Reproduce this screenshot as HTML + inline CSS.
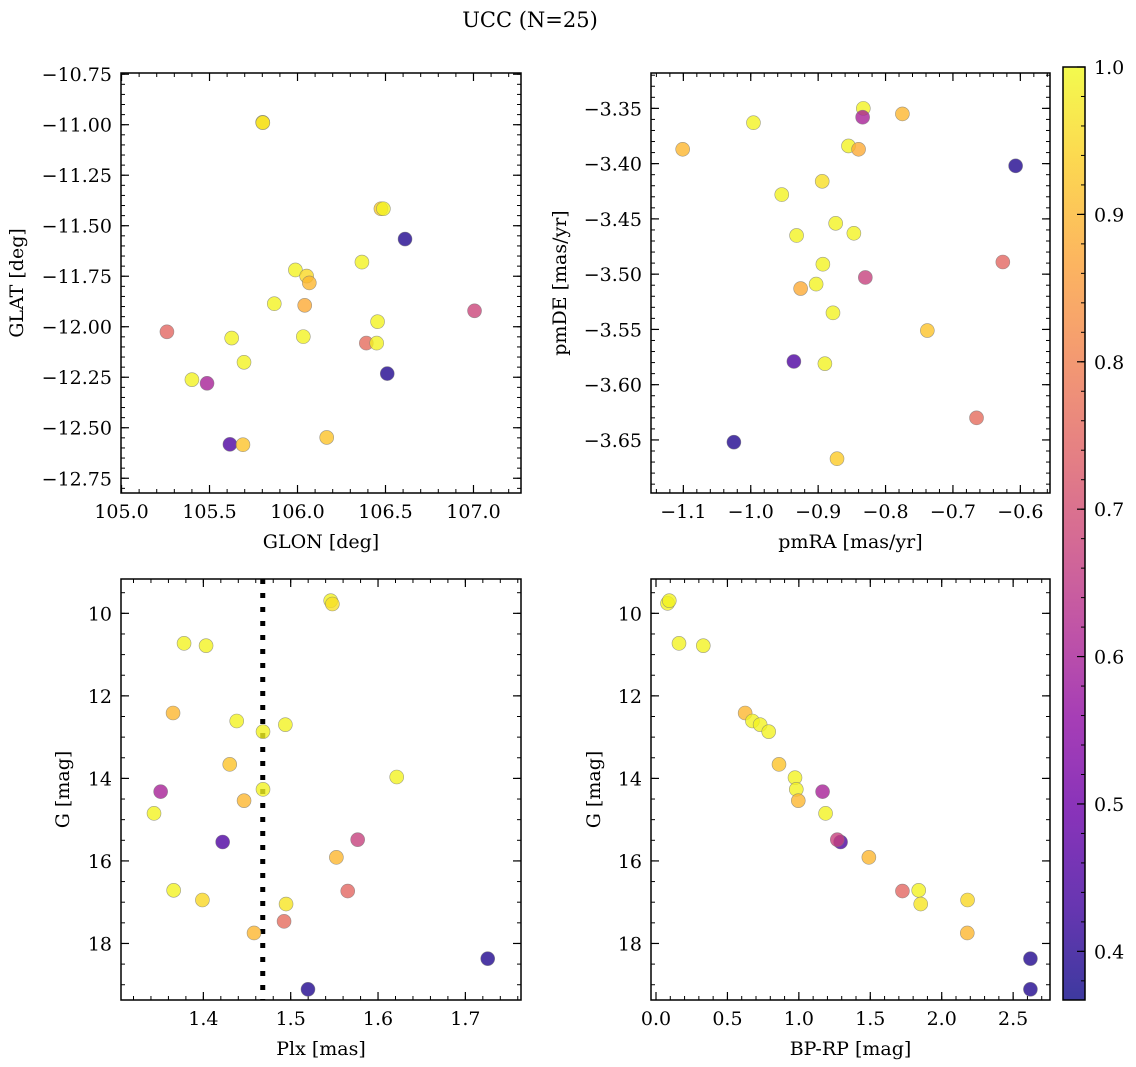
<!DOCTYPE html>
<html><head><meta charset="utf-8"><style>
html,body{margin:0;padding:0;background:#fff;}
svg{display:block;font-family:"DejaVu Serif","Liberation Serif",serif;}
</style></head><body>
<svg id="fig" width="1136" height="1067" viewBox="0 0 1136 1067" xmlns="http://www.w3.org/2000/svg">
<text x="530" y="27" font-size="21" text-anchor="middle">UCC (N=25)</text>
</svg>
<script>
// ---- data ----
const p1Glon = [105.802,106.474,106.488,106.611,106.366,105.988,106.052,106.067,105.868,106.041,107.006,105.258,106.455,105.626,106.033,106.391,106.450,105.696,106.510,105.400,105.486,106.166,105.616,105.690,105.803];
const p1Glat = [-10.988,-11.416,-11.416,-11.566,-11.680,-11.719,-11.749,-11.783,-11.886,-11.894,-11.921,-12.025,-11.975,-12.056,-12.049,-12.081,-12.081,-12.176,-12.232,-12.262,-12.280,-12.548,-12.582,-12.584,-10.990];
const p1Prob = [0.99,0.93,0.99,0.39,0.99,0.99,0.95,0.90,0.99,0.88,0.68,0.75,0.99,0.99,0.99,0.76,0.99,0.99,0.39,0.99,0.60,0.92,0.45,0.92,0.96];

const p2Pmra = [-0.833,-0.834,-0.775,-0.996,-1.101,-0.855,-0.840,-0.607,-0.894,-0.954,-0.874,-0.847,-0.932,-0.893,-0.626,-0.830,-0.903,-0.926,-0.878,-0.738,-0.936,-0.890,-0.665,-1.025,-0.872];
const p2Pmde = [-3.350,-3.358,-3.355,-3.363,-3.387,-3.384,-3.387,-3.402,-3.416,-3.428,-3.454,-3.463,-3.465,-3.491,-3.489,-3.503,-3.509,-3.513,-3.535,-3.551,-3.579,-3.581,-3.630,-3.652,-3.667];
const p2Prob = [0.99,0.60,0.90,0.99,0.90,0.99,0.88,0.39,0.96,0.99,0.99,0.99,0.99,0.99,0.75,0.67,0.99,0.88,0.99,0.92,0.45,0.99,0.76,0.39,0.93];

const p3Plx = [1.5458,1.5477,1.3779,1.4031,1.3653,1.4382,1.4939,1.4683,1.4302,1.6214,1.3511,1.4683,1.4466,1.3435,1.4221,1.5767,1.5523,1.3660,1.5653,1.3989,1.4947,1.4924,1.4580,1.7256,1.5198];
const p3G = [9.693,9.774,10.727,10.784,12.415,12.609,12.698,12.868,13.659,13.966,14.321,14.265,14.540,14.847,15.541,15.485,15.913,16.712,16.729,16.947,17.044,17.464,17.746,18.368,19.111];
const p3Prob = [0.99,0.96,0.99,0.99,0.90,0.99,0.99,0.99,0.92,0.99,0.60,0.99,0.90,0.99,0.45,0.67,0.90,0.99,0.75,0.95,0.97,0.76,0.90,0.39,0.39];
const plxLine = [1.468];

const p4Bprp = [0.081,0.093,0.161,0.331,0.624,0.675,0.729,0.789,0.861,0.973,0.982,1.166,0.996,1.187,1.292,1.269,1.490,1.839,1.725,2.181,1.853,2.179,2.621,2.621];
const p4G = [9.758,9.693,10.727,10.784,12.415,12.609,12.698,12.868,13.659,13.982,14.265,14.321,14.540,14.847,15.541,15.485,15.913,16.712,16.729,16.947,17.044,17.746,18.368,19.111];
const p4Prob = [0.99,0.99,0.99,0.99,0.90,0.99,0.99,0.99,0.92,0.99,0.99,0.60,0.90,0.99,0.45,0.67,0.90,0.99,0.75,0.95,0.97,0.90,0.39,0.39];

const cbTicks = [0.4,0.5,0.6,0.7,0.8,0.9,1.0];

const NS = "http://www.w3.org/2000/svg";
const svg = document.getElementById('fig');
function mk(tag, attrs, parent){ const e=document.createElementNS(NS,tag); for(const k in attrs) e.setAttribute(k,attrs[k]); (parent||svg).appendChild(e); return e; }

const plasma = [[13,8,135],[65,4,157],[106,0,168],[143,13,164],[177,42,144],[204,71,120],[225,100,98],[242,132,75],[252,166,54],[252,206,37],[240,249,33]];
const VMIN=0.367, VMAX=1.0;
function cmap(v){
  let t=(v-VMIN)/(VMAX-VMIN); t=Math.max(0,Math.min(1,t));
  const f=t*10, i=Math.min(9,Math.floor(f)), r=f-i;
  const a=plasma[i], b=plasma[i+1];
  return 'rgb('+a.map((c,k)=>Math.round(c+(b[k]-c)*r)).join(',')+')';
}
function fmt(v,d){ const s=v.toFixed(d); return v<0 ? '\u2212'+s.slice(1) : s; }
const TF=19, LF=19;

function panel(cfg, xs, ys, ps){
  const {x0,y0,w,h,xmin,xmax,ymin,ymax,name} = cfg;
  const g = mk('g',{});
  
  
  const X = v => x0 + (v-xmin)/(xmax-xmin)*w;
  const Y = v => cfg.invert ? y0 + (v-ymin)/(ymax-ymin)*h : y0 + (ymax-v)/(ymax-ymin)*h;
  const eps=1e-9;
  function ticks(a,b,step){ const out=[]; for(let v=Math.ceil(a/step-eps)*step; v<=b+eps; v+=step) out.push(+v.toFixed(6)); return out; }
  ticks(xmin,xmax,cfg.xminor).forEach(v=>{ const x=X(v);
    mk('line',{x1:x,x2:x,y1:y0+h,y2:y0+h-4,stroke:'#000','stroke-width':1},g);
    mk('line',{x1:x,x2:x,y1:y0,y2:y0+4,stroke:'#000','stroke-width':1},g); });
  ticks(ymin,ymax,cfg.yminor).forEach(v=>{ const y=Y(v);
    mk('line',{x1:x0,x2:x0+4,y1:y,y2:y,stroke:'#000','stroke-width':1},g);
    mk('line',{x1:x0+w,x2:x0+w-4,y1:y,y2:y,stroke:'#000','stroke-width':1},g); });
  ticks(xmin,xmax,cfg.xmajor).forEach(v=>{ const x=X(v);
    mk('line',{x1:x,x2:x,y1:y0+h,y2:y0+h-8,stroke:'#000','stroke-width':1.2},g);
    mk('line',{x1:x,x2:x,y1:y0,y2:y0+8,stroke:'#000','stroke-width':1.2},g);
    const t=mk('text',{x:x,y:y0+h+25,'font-size':TF,'text-anchor':'middle'},g); t.textContent=fmt(v,cfg.xdec);
    
     });
  ticks(ymin,ymax,cfg.ymajor).forEach(v=>{ const y=Y(v);
    mk('line',{x1:x0,x2:x0+8,y1:y,y2:y,stroke:'#000','stroke-width':1.2},g);
    mk('line',{x1:x0+w,x2:x0+w-8,y1:y,y2:y,stroke:'#000','stroke-width':1.2},g);
    const t=mk('text',{x:x0-9,y:y+7,'font-size':TF,'text-anchor':'end'},g); t.textContent=fmt(v,cfg.ydec);
    
     });
  if(cfg.vline){ cfg.vline.forEach(v=>{ const l=mk('line',{x1:X(v),x2:X(v),y1:y0,y2:y0+h,stroke:'#000','stroke-width':5,'stroke-dasharray':'5 9'},g);
    
     }); }
  xs.forEach((xv,i)=>{
    const c=mk('circle',{cx:X(xv),cy:Y(ys[i]),r:7,fill:cmap(ps[i]),'fill-opacity':0.8,stroke:'#777','stroke-opacity':0.7,'stroke-width':0.6},g);
    
    
  });
  mk('rect',{x:x0,y:y0,width:w,height:h,fill:'none',stroke:'#000','stroke-width':1.5},g);
  const xl=mk('text',{x:x0+w/2,y:y0+h+55,'font-size':LF,'text-anchor':'middle'},g); xl.textContent=cfg.xlabel;
  
  
  const yl=mk('text',{x:0,y:0,'font-size':LF,'text-anchor':'middle',transform:'translate('+cfg.ylx+','+(y0+h/2)+') rotate(-90)'},g); yl.textContent=cfg.ylabel;
  
  
}

panel({name:'glon-glat-panel',x0:121,y0:73,w:400,h:420,xmin:104.997,xmax:107.27,ymin:-12.823,ymax:-10.744,xmajor:0.5,xminor:0.1,ymajor:0.25,yminor:0.05,xdec:1,ydec:2,xlabel:'GLON [deg]',ylabel:'GLAT [deg]',ylx:23}, p1Glon,p1Glat,p1Prob);
panel({name:'pm-panel',x0:651,y0:73,w:399,h:420,xmin:-1.148,xmax:-0.556,ymin:-3.698,ymax:-3.318,xmajor:0.1,xminor:0.02,ymajor:0.05,yminor:0.01,xdec:1,ydec:2,xlabel:'pmRA [mas/yr]',ylabel:'pmDE [mas/yr]',ylx:566}, p2Pmra,p2Pmde,p2Prob);
panel({name:'plx-g-panel',x0:121,y0:579,w:400,h:421,xmin:1.3057,xmax:1.7637,ymin:9.168,ymax:19.37,invert:true,xmajor:0.1,xminor:0.02,ymajor:2,yminor:0.5,xdec:1,ydec:0,xlabel:'Plx [mas]',ylabel:'G [mag]',ylx:69,vline:plxLine}, p3Plx,p3G,p3Prob);
panel({name:'cmd-panel',x0:651,y0:579,w:399,h:421,xmin:-0.035,xmax:2.758,ymin:9.168,ymax:19.37,invert:true,xmajor:0.5,xminor:0.1,ymajor:2,yminor:0.5,xdec:1,ydec:0,xlabel:'BP-RP [mag]',ylabel:'G [mag]',ylx:600}, p4Bprp,p4G,p4Prob);

// colorbar
(function(){
  const x0=1063,y0=67,w=22,h=933;
  const g=mk('g',{});
  
  
  const defs=mk('defs',{},g);
  const lg=mk('linearGradient',{id:'cbg',x1:0,y1:1,x2:0,y2:0},defs);
  for(let i=0;i<=40;i++){ const v=VMIN+(VMAX-VMIN)*i/40; mk('stop',{offset:(i/40),'stop-color':cmap(v)},lg); }
  mk('rect',{x:x0,y:y0,width:w,height:h,fill:'url(#cbg)','fill-opacity':0.8},g);
  const Y=v=>y0+(VMAX-v)/(VMAX-VMIN)*h;
  for(let v=0.38; v<=1.0001; v+=0.02){ mk('line',{x1:x0+w,x2:x0+w-4,y1:Y(v),y2:Y(v),stroke:'#000','stroke-width':1},g); }
  cbTicks.forEach(v=>{ const y=Y(v);
    mk('line',{x1:x0+w,x2:x0+w-8,y1:y,y2:y,stroke:'#000','stroke-width':1.2},g);
    const t=mk('text',{x:x0+w+9,y:y+7,'font-size':TF},g); t.textContent=v.toFixed(1);
    
     });
  mk('rect',{x:x0,y:y0,width:w,height:h,fill:'none',stroke:'#000','stroke-width':1.5},g);
})();
</script>
</body></html>
